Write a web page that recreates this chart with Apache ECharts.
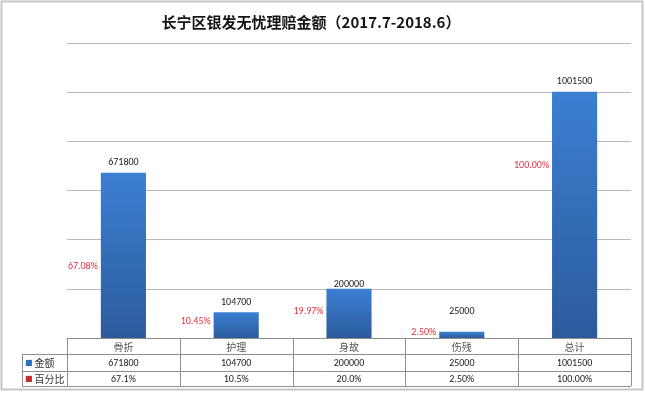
<!DOCTYPE html>
<html><head><meta charset="utf-8">
<script src="https://cdn.jsdelivr.net/npm/echarts@6/dist/echarts.min.js"></script>
<style>html,body{margin:0;padding:0;background:#fff}#c{width:645px;height:393px}</style>
</head><body><div id="c"></div>
<script>
// ---- data ----
const titleText = '长宁区银发无忧理赔金额（2017.7-2018.6）';
const categories = ['骨折', '护理', '身故', '伤残', '总计'];
const amounts = [671800, 104700, 200000, 25000, 1001500];
const pctLabels = ['67.08%', '10.45%', '19.97%', '2.50%', '100.00%'];
const tablePct = ['67.1%', '10.5%', '20.0%', '2.50%', '100.00%'];
const rowNames = ['金额', '百分比'];
const yMax = 1200000, yInterval = 200000;

// ---- layout / style ----
const W = 645, H = 393;
const gridL = 67, gridR = 14, gridT = 43, gridB = 55;
const baseY = H - gridB;
const colW = (W - gridL - gridR) / categories.length;
const tableLeft = 22, row1Y = 354, row2Y = 371, tableBottom = 386;
const valueLabelOffsets = [[0, 0], [0, 0], [0, 6], [0, -10], [0, 0]];
const pctLabelOffsets = [[0, 11], [0, -4], [0, -2], [0, -2], [0, -49]];
const lineColor = '#8e8e8e';

const chart = echarts.init(document.getElementById('c'), null, {renderer: 'canvas'});

const graphics = [];
// outer frame
graphics.push({type: 'rect', shape: {x: 1.5, y: 1.5, width: W - 4, height: H - 5},
  style: {fill: 'none', stroke: '#c6c6c6', lineWidth: 2}, silent: true, z: 0});
// title
graphics.push({type: 'text', x: 311, y: 22, style: {text: titleText, textAlign: 'center', textVerticalAlign: 'middle',
  font: 'bold 15px "Noto Sans CJK SC"', fill: '#151515'}});
// table vertical lines
for (let k = 0; k <= categories.length; k++) {
  const x = Math.round(gridL + k * colW) + 0.5;
  graphics.push({type: 'line', shape: {x1: x, y1: baseY, x2: x, y2: tableBottom}, style: {stroke: lineColor, lineWidth: 1}});
}
graphics.push({type: 'line', shape: {x1: tableLeft + 0.5, y1: row1Y, x2: tableLeft + 0.5, y2: tableBottom}, style: {stroke: lineColor, lineWidth: 1}});
[row1Y, row2Y, tableBottom].forEach(y => {
  graphics.push({type: 'line', shape: {x1: tableLeft, y1: y + 0.5, x2: W - gridR, y2: y + 0.5}, style: {stroke: lineColor, lineWidth: 1}});
});
// row legends
const keyColors = ['#2f6fbf', '#c62a2f'];
rowNames.forEach((n, i) => {
  graphics.push({type: 'text', x: 25, y: i === 0 ? (row1Y + row2Y) / 2 + 0.5 : (row2Y + tableBottom) / 2 + 0.5,
    style: {text: '{k|■}{t|' + n + '}', textVerticalAlign: 'middle',
      rich: {k: {fill: keyColors[i], font: '8px "DejaVu Sans"', padding: [0, 2, 0, 0]},
             t: {fill: '#333', font: '10px "Noto Sans CJK SC"'}}}});
});

const option = {
  animation: false,
  grid: {left: gridL, right: gridR, top: gridT, bottom: gridB},
  xAxis: {
    type: 'category', data: categories,
    axisLine: {show: true, lineStyle: {color: lineColor, width: 1}},
    axisTick: {show: false},
    axisLabel: {
      interval: 0, margin: 1,
      formatter: (v, i) => '{c|' + v + '}\n{v|' + amounts[i] + '}\n{p|' + tablePct[i] + '}',
      rich: {
        c: {fontFamily: '"Noto Sans CJK SC"', fontSize: 10, color: '#555', lineHeight: 16, align: 'center'},
        v: {fontFamily: 'Carlito, "Liberation Sans", sans-serif', fontSize: 10, color: '#222', lineHeight: 16, align: 'center'},
        p: {fontFamily: 'Carlito, "Liberation Sans", sans-serif', fontSize: 10, color: '#222', lineHeight: 16, align: 'center'}
      }
    }
  },
  yAxis: {
    type: 'value', min: 0, max: yMax, interval: yInterval,
    axisLabel: {show: false}, axisLine: {show: false}, axisTick: {show: false},
    splitLine: {lineStyle: {color: '#b9b9b9', width: 1}}
  },
  series: [
    {
      type: 'bar', barWidth: '40%', z: 3,
      data: amounts.map((v, i) => ({value: v, label: {offset: valueLabelOffsets[i]}})),
      itemStyle: {color: new echarts.graphic.LinearGradient(0, 0, 0, 1, [
        {offset: 0, color: '#3b7fd2'}, {offset: 1, color: '#2c5b9c'}])},
      label: {show: true, position: 'top', distance: 5, color: '#1a1a1a',
        fontFamily: 'Carlito, "Liberation Sans", sans-serif', fontSize: 10}
    },
    {
      type: 'bar', barWidth: '40%', barGap: '-100%', z: 4,
      data: amounts.map((v, i) => ({value: v, label: {offset: pctLabelOffsets[i]}})),
      itemStyle: {color: 'rgba(0,0,0,0)'},
      label: {show: true, position: 'left', distance: 3, color: '#e0323f',
        fontFamily: 'Carlito, "Liberation Sans", sans-serif', fontSize: 10,
        formatter: p => pctLabels[p.dataIndex]}
    }
  ],
  graphic: graphics
};
chart.setOption(option);
</script></body></html>
